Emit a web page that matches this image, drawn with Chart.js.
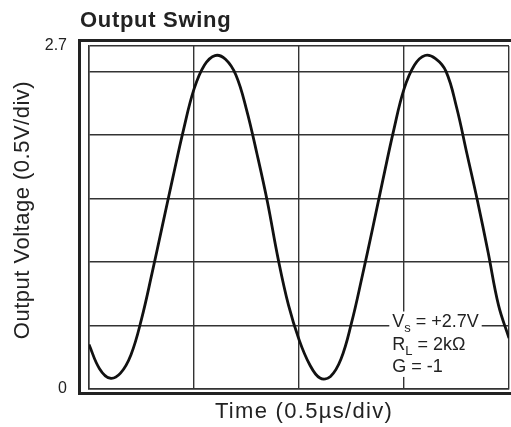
<!DOCTYPE html>
<html>
<head>
<meta charset="utf-8">
<script src="https://cdn.jsdelivr.net/npm/chart.js@4/dist/chart.umd.min.js"></script>
<style>
  html, body { margin: 0; padding: 0; background: #fff; }
  #wrap { position: relative; width: 511px; height: 427px; }
</style>
</head>
<body>
<div id="wrap"><canvas id="c" width="511" height="427"></canvas></div>
<script>
// ---- data ----
const chartTitle = "Output Swing";
const xAxisTitle = "Time (0.5\u00B5s/div)";
const yAxisTitle = "Output Voltage (0.5V/div)";
const timeUs = [0, 0.05, 0.1, 0.15, 0.2, 0.25, 0.3, 0.35, 0.4, 0.45, 0.5, 0.55, 0.6, 0.65, 0.7, 0.75, 0.8, 0.85, 0.9, 0.95,
                1.0, 1.05, 1.1, 1.15, 1.2, 1.25, 1.3, 1.35, 1.4, 1.45, 1.5, 1.55, 1.6, 1.65, 1.7, 1.75, 1.8, 1.85, 1.9, 1.95, 2.0];
const voltage = [0.35, 0.16, 0.085, 0.125, 0.27, 0.55, 0.91, 1.29, 1.67, 2.04, 2.36, 2.55, 2.625, 2.595, 2.47, 2.2, 1.85, 1.47, 1.03, 0.66,
                 0.39, 0.195, 0.086, 0.099, 0.236, 0.52, 0.88, 1.26, 1.65, 2.03, 2.36, 2.55, 2.625, 2.6, 2.5, 2.22, 1.85, 1.48, 1.08, 0.66, 0.40];
const xGridTicks = [0, 0.5, 1, 1.5, 2];
const yGridTicks = [0, 0.5, 1, 1.5, 2, 2.5, 2.7];
const yLabelledTicks = [0, 2.7];
const annotationLines = [
  ["V", "s", " = +2.7V"],
  ["R", "L", " = 2k\u03A9"],
  ["G = -1", "", ""]
];

const FONT = "'Liberation Sans', Arial, Helvetica, sans-serif";
const INK = "#222";

const points = timeUs.map((t, i) => ({ x: t, y: voltage[i] }));

const decorPlugin = {
  id: 'decor',
  beforeDatasetsDraw(chart) {
    const ctx = chart.ctx;
    const xs = chart.scales.x, ys = chart.scales.y;
    const left = xs.getPixelForValue(1.43);
    const right = xs.getPixelForValue(1.87);
    const top = ys.getPixelForValue(0.61);
    const bottom = ys.getPixelForValue(0.095);
    ctx.save();
    ctx.fillStyle = '#fff';
    ctx.fillRect(left, top, right - left, bottom - top);
    ctx.fillStyle = INK;
    ctx.textBaseline = 'alphabetic';
    ctx.textAlign = 'left';
    const x0 = left + 3;
    let base = ys.getPixelForValue(0.49);
    annotationLines.forEach(line => {
      let x = x0;
      ctx.font = "18px " + FONT;
      ctx.fillText(line[0], x, base);
      x += ctx.measureText(line[0]).width;
      if (line[1]) {
        ctx.font = "13px " + FONT;
        ctx.fillText(line[1], x, base + 5);
        x += ctx.measureText(line[1]).width;
      }
      if (line[2]) {
        ctx.font = "18px " + FONT;
        ctx.fillText(line[2], x, base);
      }
      base += 22.8;
    });
    ctx.restore();
  },
  afterDraw(chart) {
    const ctx = chart.ctx;
    const a = chart.chartArea;
    ctx.save();
    ctx.strokeStyle = INK;
    ctx.lineWidth = 3;
    ctx.beginPath();
    ctx.moveTo(chart.width + 2, a.top - 5.5);
    ctx.lineTo(a.left - 9.5, a.top - 5.5);
    ctx.lineTo(a.left - 9.5, a.bottom + 4.5);
    ctx.lineTo(chart.width + 2, a.bottom + 4.5);
    ctx.stroke();
    // title
    ctx.fillStyle = INK;
    ctx.font = "bold 22px " + FONT;
    ctx.letterSpacing = "0.7px";
    ctx.textAlign = 'left';
    ctx.textBaseline = 'alphabetic';
    ctx.fillText(chartTitle, 80, 27);
    // x axis title
    ctx.font = "22px " + FONT;
    ctx.letterSpacing = "1.3px";
    ctx.textAlign = 'center';
    ctx.textBaseline = 'middle';
    ctx.fillText(xAxisTitle, 304, 412);
    // y axis title
    ctx.letterSpacing = "0.5px";
    ctx.translate(23, 210);
    ctx.rotate(-Math.PI / 2);
    ctx.fillText(yAxisTitle, 0, 0);
    ctx.restore();
  }
};

new Chart(document.getElementById('c'), {
  type: 'line',
  data: {
    datasets: [{
      data: points,
      borderColor: '#111',
      borderWidth: 2.8,
      pointRadius: 0,
      tension: 0.4,
      fill: false
    }]
  },
  options: {
    responsive: false,
    animation: false,
    devicePixelRatio: 1,
    layout: { padding: { left: 0, top: 46, right: 2, bottom: 0 } },
    plugins: { legend: { display: false }, tooltip: { enabled: false }, title: { display: false } },
    scales: {
      x: {
        type: 'linear',
        min: 0, max: 2,
        afterBuildTicks: s => { s.ticks = xGridTicks.map(v => ({ value: v })); },
        afterFit: s => { s.height = 38; },
        ticks: { display: false },
        grid: { color: '#333', lineWidth: 1.4, drawTicks: false },
        border: { display: true, color: '#333', width: 1.5 }
      },
      y: {
        type: 'linear',
        min: 0, max: 2.7,
        afterBuildTicks: s => { s.ticks = yGridTicks.map(v => ({ value: v })); },
        afterFit: s => { s.width = 89; },
        ticks: {
          padding: 22,
          color: INK,
          font: { family: FONT, size: 16 },
          callback: v => yLabelledTicks.includes(v) ? String(v) : ''
        },
        grid: { color: '#333', lineWidth: 1.4, drawTicks: false },
        border: { display: true, color: '#333', width: 1.5 }
      }
    }
  },
  plugins: [decorPlugin]
});
</script>
</body>
</html>
